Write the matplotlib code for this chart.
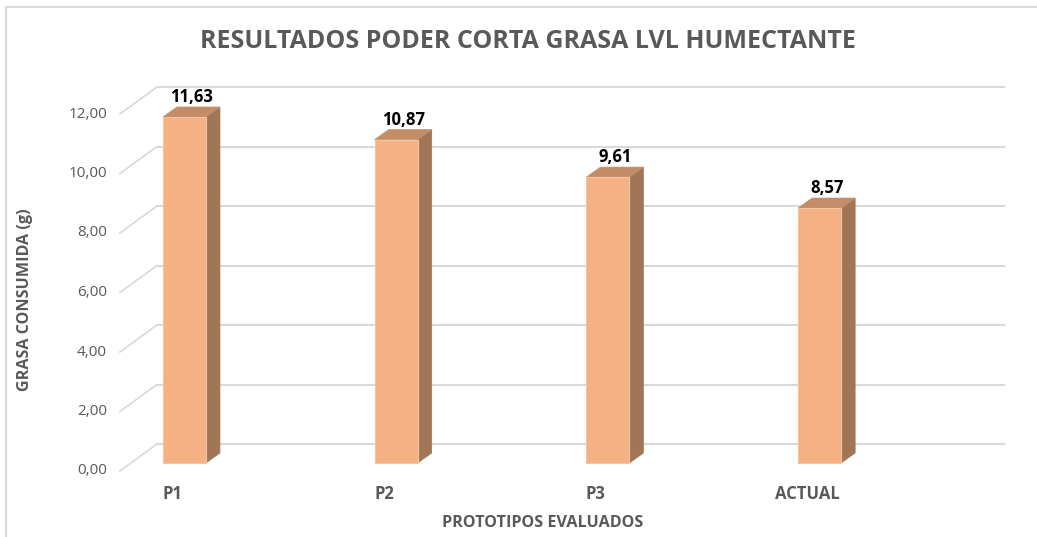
import matplotlib
matplotlib.use("Agg")
import matplotlib.pyplot as plt
from matplotlib.patches import Polygon, Rectangle
from matplotlib.lines import Line2D

# ---- data ----
categories = ["P1", "P2", "P3", "ACTUAL"]
values = [11.63, 10.87, 9.61, 8.57]
value_labels = ["11,63", "10,87", "9,61", "8,57"]
y_ticks = [0, 2, 4, 6, 8, 10, 12]
y_tick_labels = ["0,00", "2,00", "4,00", "6,00", "8,00", "10,00", "12,00"]
title = "RESULTADOS PODER CORTA GRASA LVL HUMECTANTE"
x_title = "PROTOTIPOS EVALUADOS"
y_title = "GRASA CONSUMIDA (g)"

# ---- style ----
FONT = ["Open Sans", "DejaVu Sans"]
GRAY = "#595959"
GRID = "#d9d9d9"
FRONT = "#F4B183"
SIDE = "#A07656"
TOP = "#C48D69"
W, H = 1037, 537

fig = plt.figure(figsize=(W / 100, H / 100), dpi=100)
fig.patch.set_facecolor("white")
ax = fig.add_axes([78.6 / W, (H - 463) / H, 846.9 / W, 357 / H])
ax.set_xlim(-0.5, 3.5)
ax.set_ylim(0, 12)
ax.axis("off")

# pixel -> data unit conversions
p0 = ax.transData.transform((0, 0))
p1 = ax.transData.transform((1, 1))
pxx = p1[0] - p0[0]
pxy = p1[1] - p0[1]
def dx(px):
    return px / pxx
def dy(px):
    return px / pxy

# depth offsets (pixels): bar front -> back wall, bar front -> front plane
back_dx, back_dy = dx(25), dy(19)
front_dx, front_dy = dx(-12), dy(-8)
bar_ddx, bar_ddy = dx(14), dy(10)
wall_left = dx(132 - 184.5)
wall_right = dx(979 - 184.5)

# back wall gridlines and side-wall diagonals
for t in y_ticks:
    ax.add_line(Line2D([wall_left + back_dx, wall_right + back_dx],
                       [t + back_dy, t + back_dy], color=GRID, lw=1.5,
                       clip_on=False, zorder=1))
    ax.add_line(Line2D([wall_left + front_dx, wall_left + back_dx],
                       [t + front_dy, t + back_dy], color=GRID, lw=1.2,
                       clip_on=False, zorder=1))

# y tick labels
for t, lab in zip(y_ticks, y_tick_labels):
    ax.text(wall_left + front_dx - dx(13), t + front_dy, lab, ha="right",
            va="center", fontsize=11, color=GRAY, family=FONT)

# bars
bw = dx(43)
for i, (v, lab) in enumerate(zip(values, value_labels)):
    l, r = i - bw / 2, i + bw / 2
    ax.add_patch(Polygon([(r, 0), (r + bar_ddx, bar_ddy), (r + bar_ddx, v + bar_ddy), (r, v)],
                         closed=True, facecolor=SIDE, edgecolor=SIDE, lw=0.5,
                         clip_on=False, zorder=3))
    ax.add_patch(Polygon([(l, v), (r, v), (r + bar_ddx, v + bar_ddy), (l + bar_ddx, v + bar_ddy)],
                         closed=True, facecolor=TOP, edgecolor=TOP, lw=0.5,
                         clip_on=False, zorder=3))
    ax.add_patch(Rectangle((l, 0), bw, v, facecolor=FRONT, edgecolor="#F7C4A0",
                           lw=0.8, clip_on=False, zorder=4))
    ax.text(i + bar_ddx / 2, v + bar_ddy + dy(1), lab, ha="center", va="bottom",
            fontsize=12, fontweight="bold", color="black", family=FONT, zorder=5)
    ax.text(i + front_dx, front_dy - dy(23), categories[i], ha="center",
            va="center", fontsize=12, fontweight="bold", color=GRAY, family=FONT)

# titles
fig.text(528 / W, 1 - 42 / H, title, ha="center", va="center", fontsize=18,
         fontweight="bold", color=GRAY, family=FONT)
fig.text(543 / W, 1 - 523 / H, x_title, ha="center", va="center", fontsize=11.6,
         fontweight="bold", color=GRAY, family=FONT)
fig.text(25 / W, 1 - 300 / H, y_title, ha="center", va="center", fontsize=11.6,
         fontweight="bold", color=GRAY, family=FONT, rotation=90)

# chart border (left and top visible)
fig.add_artist(Line2D([6 / W, 6 / W], [0, 1 - 7 / H], color=GRID, lw=1.5))
fig.add_artist(Line2D([6 / W, 1], [1 - 7 / H, 1 - 7 / H], color=GRID, lw=1.5))

fig.savefig("out.png", dpi=100, facecolor="white")
